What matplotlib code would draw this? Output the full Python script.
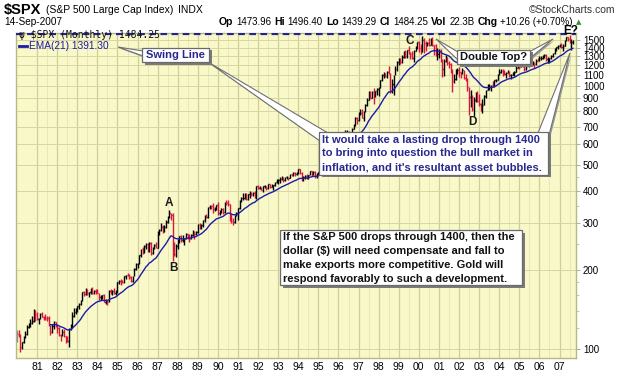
import numpy as np
import matplotlib
matplotlib.use("Agg")
import matplotlib.pyplot as plt
from matplotlib.collections import LineCollection
from matplotlib.patches import Polygon, Rectangle

# ---------------- data (monthly S&P 500, Jan 1980 .. Sep 2007) ----------------
first_month = 1980.0
prev_close_1979 = 107.9

close_prices = [
    114.2, 113.7, 102.1, 106.3, 111.2, 114.2, 121.7, 122.4, 125.5, 127.5, 140.5, 135.8,   # 1980
    129.6, 131.3, 136.0, 132.8, 132.6, 131.2, 130.9, 122.8, 116.2, 121.9, 126.4, 122.6,   # 1981
    120.4, 113.1, 112.0, 116.4, 111.9, 109.6, 107.1, 119.5, 120.4, 133.7, 138.5, 140.6,   # 1982
    145.3, 148.1, 153.0, 164.4, 162.4, 168.1, 162.6, 164.4, 166.1, 163.6, 166.4, 164.9,   # 1983
    163.4, 157.1, 159.2, 160.1, 150.6, 153.2, 150.7, 166.7, 166.1, 166.1, 163.6, 167.2,   # 1984
    179.6, 181.2, 180.7, 179.8, 189.6, 191.9, 190.9, 188.6, 182.1, 189.8, 202.2, 211.3,   # 1985
    211.8, 226.9, 238.9, 235.5, 247.4, 250.8, 236.1, 252.9, 231.3, 244.0, 249.2, 242.2,   # 1986
    274.1, 284.2, 291.7, 288.4, 290.1, 304.0, 318.7, 329.8, 321.8, 251.8, 230.3, 247.1,   # 1987
    257.1, 267.8, 258.9, 261.3, 262.2, 273.5, 272.0, 261.5, 271.9, 279.0, 273.7, 277.7,   # 1988
    297.5, 288.9, 294.9, 309.6, 320.5, 318.0, 346.1, 351.5, 349.2, 340.4, 346.0, 353.4,   # 1989
    329.1, 331.9, 339.9, 330.8, 361.2, 358.0, 356.2, 322.6, 306.1, 304.0, 322.2, 330.2,   # 1990
    343.9, 367.1, 375.2, 375.4, 389.8, 371.2, 387.8, 395.4, 387.9, 392.5, 375.2, 417.1,   # 1991
    408.8, 412.7, 403.7, 415.0, 415.4, 408.1, 424.2, 414.0, 417.8, 418.7, 431.4, 435.7,   # 1992
    438.8, 443.4, 451.7, 440.2, 450.2, 450.5, 448.1, 463.6, 458.9, 467.8, 461.8, 466.5,   # 1993
    481.6, 467.1, 445.8, 450.9, 456.5, 444.3, 458.3, 475.5, 462.7, 472.4, 453.7, 459.3,   # 1994
    470.4, 487.4, 500.7, 514.7, 533.4, 544.8, 562.1, 561.9, 584.4, 581.5, 605.4, 615.9,   # 1995
    636.0, 640.4, 645.5, 654.2, 669.1, 670.6, 640.0, 652.0, 687.3, 705.3, 757.0, 740.7,   # 1996
    786.2, 790.8, 757.1, 801.3, 848.3, 885.1, 954.3, 899.5, 947.3, 914.6, 955.4, 970.4,   # 1997
    980.3, 1049.3, 1101.8, 1111.8, 1090.8, 1133.8, 1120.7, 957.3, 1017.0, 1098.7, 1163.6, 1229.2,   # 1998
    1279.6, 1238.3, 1286.4, 1335.2, 1301.8, 1372.7, 1328.7, 1320.4, 1282.7, 1362.9, 1388.9, 1469.3,  # 1999
    1394.5, 1366.4, 1498.6, 1452.4, 1420.6, 1454.6, 1430.8, 1517.7, 1436.5, 1429.4, 1315.0, 1320.3,  # 2000
    1366.0, 1239.9, 1160.3, 1249.5, 1255.8, 1224.4, 1211.2, 1133.6, 1040.9, 1059.8, 1139.5, 1148.1,  # 2001
    1130.2, 1106.7, 1147.4, 1076.9, 1067.1, 989.8, 911.6, 916.1, 815.3, 885.8, 936.3, 879.8,         # 2002
    855.7, 841.2, 848.2, 916.9, 963.6, 974.5, 990.3, 1008.0, 996.0, 1050.7, 1058.2, 1111.9,          # 2003
    1131.1, 1144.9, 1126.2, 1107.3, 1120.7, 1140.8, 1101.7, 1104.2, 1114.6, 1130.2, 1173.8, 1211.9,  # 2004
    1181.3, 1203.6, 1180.6, 1156.9, 1191.5, 1191.3, 1234.2, 1220.3, 1228.8, 1207.0, 1249.5, 1248.3,  # 2005
    1280.1, 1280.7, 1294.8, 1310.6, 1270.1, 1270.2, 1276.7, 1303.8, 1335.9, 1377.9, 1400.6, 1418.3,  # 2006
    1438.2, 1406.8, 1420.9, 1482.4, 1530.6, 1503.4, 1455.3, 1474.0, 1484.3,                          # 2007
]

high_prices = [
    118.0, 118.4, 113.7, 106.3, 111.6, 117.2, 122.9, 126.0, 130.4, 133.7, 142.0, 141.0,
    138.0, 131.3, 137.5, 138.4, 134.0, 135.3, 133.0, 133.9, 123.0, 124.0, 127.3, 126.5,
    123.0, 121.4, 113.7, 119.3, 119.5, 112.0, 112.0, 120.5, 124.9, 138.5, 143.0, 143.0,
    146.0, 149.2, 153.7, 164.9, 166.4, 170.0, 169.5, 164.5, 170.4, 172.7, 168.0, 169.0,
    169.5, 163.8, 160.0, 161.0, 162.1, 155.0, 154.0, 168.0, 169.0, 168.0, 170.4, 168.0,
    180.3, 183.4, 183.9, 183.0, 190.0, 191.9, 195.1, 193.0, 189.0, 190.0, 203.0, 212.0,
    213.0, 227.9, 240.3, 244.5, 249.2, 251.8, 253.0, 254.2, 254.0, 245.0, 250.0, 254.9,
    280.0, 285.5, 301.0, 297.0, 296.0, 308.0, 320.0, 337.9, 330.0, 328.0, 255.8, 250.0,
    262.0, 268.7, 272.0, 271.0, 263.0, 275.0, 274.0, 274.0, 273.0, 283.7, 280.0, 280.0,
    297.5, 300.0, 298.0, 310.5, 322.0, 327.0, 347.0, 354.0, 353.0, 360.0, 347.0, 353.4,
    360.6, 337.0, 345.0, 345.0, 362.0, 368.0, 369.8, 357.0, 325.0, 315.0, 324.0, 332.0,
    344.0, 370.0, 378.0, 391.0, 391.0, 391.0, 390.0, 397.0, 396.0, 395.0, 398.0, 418.0,
    421.0, 417.0, 413.0, 417.0, 419.0, 416.0, 424.8, 424.5, 422.5, 419.0, 432.0, 441.3,
    442.0, 450.0, 456.0, 451.0, 452.0, 454.0, 451.0, 464.0, 464.0, 470.0, 469.0, 471.0,
    482.9, 482.0, 471.0, 453.0, 458.0, 462.0, 459.0, 477.0, 476.0, 475.0, 473.0, 466.0,
    472.0, 489.0, 504.0, 515.0, 534.0, 551.0, 563.0, 565.0, 586.0, 588.0, 608.0, 622.9,
    638.0, 664.2, 660.0, 659.0, 681.0, 680.0, 676.0, 670.0, 692.0, 714.0, 762.0, 761.0,
    794.7, 817.7, 815.0, 805.0, 851.0, 898.7, 961.0, 960.0, 960.0, 983.1, 961.0, 986.3,
    992.7, 1051.0, 1105.7, 1130.5, 1123.0, 1138.5, 1190.6, 1121.0, 1066.1, 1103.8, 1193.0, 1244.9,
    1280.0, 1283.0, 1317.0, 1362.0, 1375.9, 1376.0, 1420.3, 1352.0, 1361.0, 1369.0, 1416.4, 1473.0,
    1478.0, 1444.6, 1552.9, 1527.2, 1481.5, 1474.6, 1517.3, 1518.5, 1530.1, 1436.3, 1438.5, 1389.6,
    1383.4, 1376.4, 1267.4, 1269.3, 1316.0, 1286.6, 1239.8, 1226.3, 1155.4, 1110.6, 1163.4, 1173.6,
    1177.0, 1130.2, 1173.0, 1147.8, 1106.6, 1067.7, 994.5, 965.0, 924.0, 907.4, 951.6, 954.3,
    935.0, 864.6, 895.9, 924.2, 965.4, 1015.3, 1015.4, 1011.0, 1040.3, 1053.8, 1063.7, 1112.6,
    1155.4, 1159.0, 1163.2, 1150.6, 1127.7, 1146.3, 1140.8, 1109.7, 1131.5, 1142.1, 1188.5, 1217.9,
    1217.8, 1212.4, 1229.1, 1191.9, 1199.6, 1219.6, 1245.2, 1245.9, 1243.1, 1233.3, 1270.6, 1275.8,
    1294.9, 1297.6, 1310.9, 1318.2, 1326.7, 1284.4, 1280.4, 1307.1, 1340.3, 1389.4, 1407.9, 1431.8,
    1441.6, 1461.6, 1438.9, 1498.0, 1535.6, 1540.6, 1555.9, 1503.9, 1496.4,
]

low_prices = [
    105.9, 111.1, 97.0, 99.8, 105.0, 110.5, 113.5, 119.9, 121.0, 124.0, 127.0, 127.4,
    128.5, 124.5, 129.5, 132.0, 128.8, 129.0, 127.2, 122.5, 112.8, 115.5, 119.5, 121.0,
    114.8, 112.0, 107.3, 111.9, 111.0, 105.5, 106.0, 101.4, 118.0, 120.0, 132.0, 135.5,
    138.3, 141.5, 147.0, 152.0, 159.5, 160.0, 160.0, 158.0, 162.5, 162.0, 161.5, 162.0,
    162.8, 153.8, 152.9, 155.0, 150.3, 148.0, 147.3, 150.5, 162.5, 160.0, 162.0, 161.0,
    163.4, 177.0, 175.6, 177.8, 178.5, 185.0, 189.0, 185.0, 180.0, 180.5, 189.0, 199.0,
    203.5, 210.5, 224.0, 230.0, 232.0, 239.5, 233.0, 234.0, 228.0, 229.0, 239.0, 241.5,
    241.5, 271.0, 281.5, 276.0, 278.0, 288.0, 302.0, 316.0, 309.0, 216.5, 225.0, 223.9,
    240.0, 253.0, 256.0, 256.0, 248.9, 261.0, 262.5, 256.0, 262.0, 270.0, 263.0, 271.0,
    275.3, 287.0, 285.0, 292.0, 305.0, 315.0, 316.0, 341.0, 342.0, 330.0, 336.0, 339.0,
    322.0, 322.0, 329.0, 326.0, 329.0, 354.0, 351.0, 306.5, 301.0, 295.5, 302.0, 320.0,
    309.0, 340.0, 362.0, 368.0, 371.0, 368.0, 370.0, 374.0, 383.0, 380.0, 374.0, 371.0,
    405.0, 405.0, 401.0, 394.5, 409.0, 401.0, 404.0, 410.0, 412.0, 402.7, 417.0, 427.0,
    425.0, 428.0, 440.0, 431.0, 436.0, 441.0, 440.0, 446.0, 455.0, 456.0, 454.0, 460.0,
    464.0, 464.0, 436.0, 435.9, 441.0, 441.0, 444.0, 457.0, 456.0, 459.0, 448.0, 445.0,
    457.0, 469.0, 484.0, 500.0, 511.0, 530.0, 543.0, 553.0, 560.0, 573.0, 580.0, 598.0,
    597.0, 632.0, 627.0, 624.0, 638.0, 658.0, 605.9, 639.0, 649.0, 684.0, 703.0, 716.0,
    737.0, 773.0, 756.0, 733.5, 793.0, 837.0, 884.0, 897.0, 898.0, 855.3, 908.0, 926.0,
    912.8, 980.0, 1047.0, 1076.7, 1086.0, 1074.7, 1114.0, 939.9, 939.9, 923.3, 1098.0, 1136.9,
    1204.5, 1211.6, 1228.0, 1282.0, 1281.0, 1281.4, 1323.5, 1268.7, 1264.0, 1233.7, 1354.0, 1387.0,
    1350.1, 1325.1, 1346.6, 1339.4, 1361.1, 1420.6, 1416.0, 1427.0, 1419.4, 1305.8, 1303.0, 1254.1,
    1274.6, 1228.1, 1081.2, 1091.9, 1232.0, 1203.0, 1165.5, 1124.9, 944.8, 1026.8, 1054.3, 1114.5,
    1081.7, 1074.4, 1106.7, 1063.5, 1048.0, 952.9, 775.7, 833.4, 800.2, 768.6, 872.7, 869.5,
    840.3, 806.3, 788.9, 847.9, 902.8, 963.2, 962.1, 960.8, 990.4, 994.9, 1031.2, 1058.2,
    1105.1, 1124.4, 1087.2, 1105.3, 1076.3, 1118.8, 1078.8, 1060.7, 1101.3, 1090.2, 1127.6, 1173.8,
    1163.8, 1180.9, 1176.9, 1136.2, 1146.2, 1188.3, 1183.6, 1201.1, 1205.4, 1168.2, 1201.1, 1246.6,
    1245.7, 1253.6, 1268.4, 1280.7, 1245.3, 1219.3, 1224.5, 1265.3, 1290.9, 1327.1, 1360.6, 1385.9,
    1404.0, 1389.4, 1364.0, 1416.4, 1476.7, 1484.2, 1454.3, 1370.6, 1439.3,
]

year_labels = ['81', '82', '83', '84', '85', '86', '87', '88', '89', '90', '91', '92', '93',
               '94', '95', '96', '97', '98', '99', '00', '01', '02', '03', '04', '05', '06', '07']
price_ticks = [100, 200, 300, 400, 500, 600, 700, 800, 900, 1000, 1100, 1200, 1300, 1400, 1500]
ema_period = 21
resistance_level = 1570

# ---------------- figure ----------------
W, H = 620, 376
fig = plt.figure(figsize=(W / 100, H / 100), dpi=100)
fig.patch.set_facecolor('white')

def fx(x):
    return x / W

def fy(y):
    return 1 - y / H

ax = fig.add_axes([16 / W, 1 - 358 / H, 560 / W, 325 / H])
ax.set_facecolor('#F8F8C9')

close = np.array(close_prices)
high = np.array(high_prices)
low = np.array(low_prices)
opens = np.concatenate([[prev_close_1979], close[:-1]])
n = len(close)
xs = first_month + np.arange(n) / 12.0

# EMA(21)
alpha = 2.0 / (ema_period + 1)
ema = np.full(n, np.nan)
ema[ema_period - 1] = close[:ema_period].mean()
for i in range(ema_period, n):
    ema[i] = alpha * close[i] + (1 - alpha) * ema[i - 1]

# grid
for yr in range(1981, 2008):
    ax.axvline(yr, color='#CFCF98', lw=0.9, zorder=0)
    ax.axvline(yr + 0.5, color='#E4E4B4', lw=0.6, zorder=0)
for v in price_ticks:
    ax.axhline(v, color='#D6D6A2', lw=0.7, zorder=0)

# OHLC bars
w = 0.3 / 12
segs, cols = [], []
for i in range(n):
    if i == 0:
        c = '#909090'
    elif close[i] < close[i - 1]:
        c = '#DC143C'
    else:
        c = '#000000'
    segs.append([(xs[i], low[i]), (xs[i], high[i])])
    segs.append([(xs[i] - w, opens[i]), (xs[i], opens[i])])
    segs.append([(xs[i], close[i]), (xs[i] + w, close[i])])
    cols += [c, c, c]
ax.add_collection(LineCollection(segs, colors=cols, linewidths=1.0, zorder=3))

ax.plot(xs, ema, color='#1C1CA8', lw=1.0, zorder=4)
ax.axhline(resistance_level, color='#22229A', lw=1.6, ls=(0, (3, 2)), zorder=5)

ax.set_yscale('log')
ax.set_ylim(92.4, 1590)
ax.set_xlim(1979.95, 2007.82)
ax.yaxis.tick_right()
ax.set_yticks(price_ticks)
ax.set_yticklabels([str(v) for v in price_ticks])
ax.yaxis.set_minor_locator(matplotlib.ticker.FixedLocator([120, 140, 160, 180, 250, 350, 450]))
ax.yaxis.set_minor_formatter(matplotlib.ticker.NullFormatter())
ax.set_xticks(list(range(1981, 2008)))
ax.set_xticklabels(year_labels)
ax.tick_params(axis='y', which='major', length=3, width=0.6, color='#A0A0A0', pad=2,
               labelsize=7.0, labelfontfamily='Liberation Sans')
ax.tick_params(axis='y', which='minor', length=2, width=0.5, color='#B0B0B0')
ax.tick_params(axis='x', length=0, pad=3, labelsize=7.5, labelfontfamily='Liberation Sans')
for s in ax.spines.values():
    s.set_color('#B8B880')
    s.set_linewidth(1.0)

renderer = fig.canvas.get_renderer()

def row(pieces, y, x_start=None, x_end=None, gap=3.5):
    objs = []
    for txt, size, bold in pieces:
        t = fig.text(0, fy(y), txt, fontsize=size, family='Liberation Sans',
                     fontweight='bold' if bold else 'normal', va='center')
        objs.append(t)
    widths = [t.get_window_extent(renderer).width for t in objs]
    total = sum(widths) + gap * (len(widths) - 1)
    xpos = x_start if x_start is not None else x_end - total
    for t, wd in zip(objs, widths):
        t.set_x(fx(xpos))
        xpos += wd + gap

# ---------------- header ----------------
row([('$SPX', 10.5, True), ('(S&P 500 Large Cap Index)', 7.5, False), ('INDX', 7.5, False)],
    10, x_start=4, gap=4.5)
fig.text(fx(615), fy(10), '\u00a9StockCharts.com', fontsize=7.5, family='Liberation Sans',
         va='center', ha='right', color='#333333')
fig.text(fx(4), fy(22), '14-Sep-2007', fontsize=7.2, family='Liberation Sans', va='center')
row([('Op', 7.5, True), ('1473.96', 7.0, False), ('Hi', 7.5, True), ('1496.40', 7.0, False),
     ('Lo', 7.5, True), ('1439.29', 7.0, False), ('Cl', 7.5, True), ('1484.25', 7.0, False),
     ('Vol', 7.5, True), ('22.3B', 7.0, False), ('Chg', 7.5, True), ('+10.26 (+0.70%)', 7.0, False)],
    22, x_end=573, gap=3.0)
fig.text(fx(579), fy(22), '\u25b2', fontsize=5, color='#2E8B2E', va='center', ha='center')

# legend inside plot
fig.text(fx(19), fy(34.5), '\u03c8 $SPX (Monthly) 1484.25', fontsize=7,
         family=['DejaVu Sans Mono', 'DejaVu Sans'], va='center', color='#111111', zorder=6)
fig.add_artist(plt.Line2D([fx(19), fx(27)], [fy(46), fy(46)], color='#1C1CA8', lw=2))
fig.text(fx(29), fy(46), 'EMA(21) 1391.30', fontsize=7.3, family='Liberation Sans', va='center',
         color='#1C1CA8')
fig.text(fx(563), fy(31.5), 'E?', fontsize=8.5, fontweight='bold', family='Liberation Sans', va='center')

# ---------------- callouts ----------------
def wedge(pts, z=7):
    P = [(fx(a), fy(b)) for a, b in pts]
    S = [(fx(a + 1.5), fy(b + 1.5)) for a, b in pts]
    fig.add_artist(Polygon(S, closed=True, facecolor='#9A9A9A', edgecolor='none', zorder=z))
    fig.add_artist(Polygon(P, closed=True, facecolor='white', edgecolor='#707070', lw=0.8, zorder=z + 0.1))

def box(x0, y0, x1, y1, z=8):
    fig.add_artist(Rectangle((fx(x0 + 2.5), fy(y1 + 2.5)), (x1 - x0) / W, (y1 - y0) / H,
                             facecolor='#7A7A7A', edgecolor='none', zorder=z))
    fig.add_artist(Rectangle((fx(x0), fy(y1)), (x1 - x0) / W, (y1 - y0) / H,
                             facecolor='white', edgecolor='#6A6A6A', lw=0.9, zorder=z + 0.1))

navy = '#27278F'
tfont = dict(fontsize=8, fontweight='bold', family='Liberation Sans', zorder=9)

wedge([(118, 47), (143, 51), (143, 56)])
wedge([(208, 62), (328, 133), (320, 141)])
wedge([(570, 53), (538, 133), (548, 139)])
wedge([(436, 39), (458, 52), (458, 60)])
wedge([(553, 39), (529, 52), (529, 59)])

box(142, 48, 209, 62)
fig.text(fx(175.5), fy(55.5), 'Swing Line', ha='center', va='center', color=navy, **tfont)

box(457, 50, 530, 64)
fig.text(fx(493.5), fy(57.5), 'Double Top?', ha='center', va='center', color='#111111', **tfont)

box(319, 132, 548, 175)
for k, line in enumerate(['It would take a lasting drop through 1400',
                          'to bring into question the bull market in',
                          "inflation, and it's resultant asset bubbles."]):
    fig.text(fx(322), fy(139.5 + 14 * k), line, ha='left', va='center', color=navy, **tfont)

box(280, 230, 522, 285)
for k, line in enumerate(['If the S&P 500 drops through 1400, then the',
                          'dollar ($) will need compensate and fall to',
                          'make exports more competitive. Gold will',
                          'respond favorably to such a development.']):
    fig.text(fx(283), fy(236.5 + 14.1 * k), line, ha='left', va='center', color='#111111', **tfont)

# wave letters
lfont = dict(fontsize=8.5, fontweight='bold', family='Liberation Sans', ha='center', va='center',
             color='#1A1A1A', zorder=6)
fig.text(fx(169), fy(203), 'A', **lfont)
fig.text(fx(173), fy(268), 'B', **lfont)
fig.text(fx(410), fy(41), 'C', **lfont)
fig.text(fx(472), fy(122), 'D', **lfont)

fig.savefig('out.png', dpi=100, facecolor='white')
